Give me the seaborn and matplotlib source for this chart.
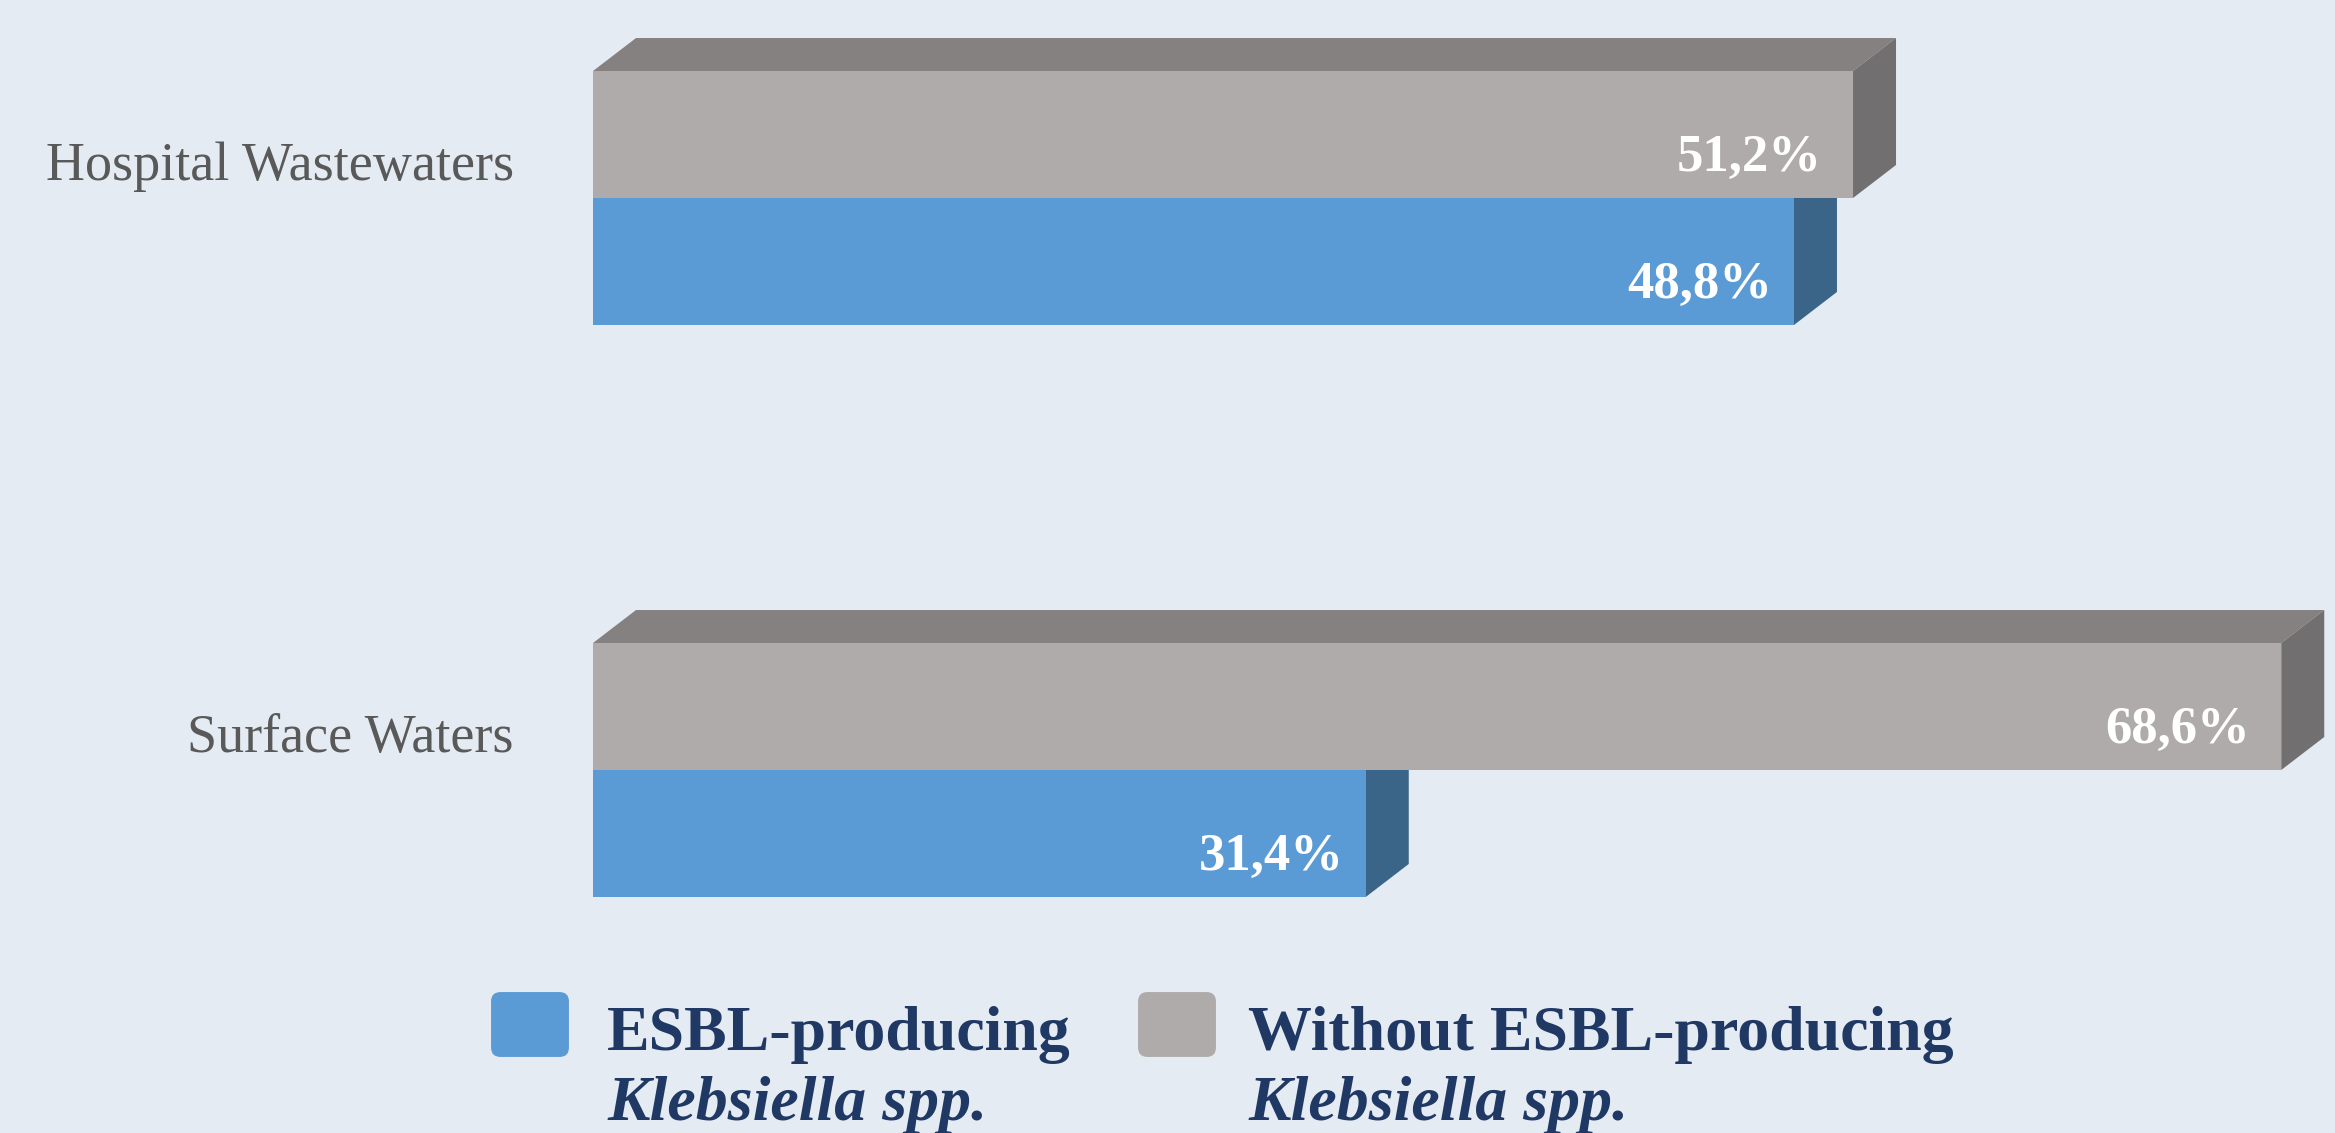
import numpy as np
import pandas as pd
import matplotlib
matplotlib.use("Agg")
import matplotlib.pyplot as plt
import seaborn as sns
from matplotlib.patches import Polygon, FancyBboxPatch

# ---------------- data ----------------
categories = ["Hospital Wastewaters", "Surface Waters"]
series_names = ["ESBL-producing", "Without ESBL-producing"]
esbl_pct = [48.8, 31.4]
without_pct = [51.2, 68.6]
esbl_labels = ["48,8%", "31,4%"]
without_labels = ["51,2%", "68,6%"]
legend_line2 = "Klebsiella spp."

# ---------------- style ----------------
BG = "#E4EBF3"
BLUE_FRONT, BLUE_TOP, BLUE_SIDE = "#5B9BD5", "#4A80B0", "#3A6589"
GRAY_FRONT, GRAY_TOP, GRAY_SIDE = "#AEABAA", "#858180", "#716F6F"
NAVY = "#203864"
LABEL_GRAY = "#595959"

sns.set_theme(style="white")
plt.rcParams["font.family"] = ["Liberation Serif", "DejaVu Serif"]

W, H, DPI = 2335, 1133, 100
fig = plt.figure(figsize=(W / DPI, H / DPI), dpi=DPI, facecolor=BG)

# axes placement (pixels)
ax_left, ax_top, ax_bottom = 593, 0, 940
px_per_pct = 24.61
xmax = 70
ax_w = xmax * px_per_pct
px_per_cat = 572
y_top = (ax_top - 198) / px_per_cat
y_bot = (ax_bottom - 198) / px_per_cat
ax = fig.add_axes([ax_left / W, 1 - ax_bottom / H, ax_w / W, (ax_bottom - ax_top) / H])
ax.set_facecolor(BG)

df = pd.DataFrame({
    "category": categories * 2,
    "series": [series_names[1]] * len(categories) + [series_names[0]] * len(categories),
    "value": without_pct + esbl_pct,
})

palette = {series_names[0]: BLUE_FRONT, series_names[1]: GRAY_FRONT}
sns.barplot(data=df, y="category", x="value", hue="series",
            order=categories, hue_order=[series_names[1], series_names[0]],
            palette=palette, width=0.444, gap=0, saturation=1, dodge=True,
            errorbar=None, legend=False, orient="h", ax=ax, linewidth=0)

ax.set_xlim(0, xmax)
ax.set_ylim(y_bot, y_top)
for s in ax.spines.values():
    s.set_visible(False)
ax.set_xticks([])
ax.set_xlabel("")
ax.set_ylabel("")
ax.grid(False)

# depth of the 3D effect in data units
dx = 43 / px_per_pct
dy = 33 / px_per_cat

bars = list(ax.patches)
n = len(categories)
without_bars = bars[:n]
esbl_bars = bars[n:2 * n]

def add_3d(bar, top_c, side_c, z):
    x0, y0 = bar.get_x(), bar.get_y()
    w, h = bar.get_width(), bar.get_height()
    x1 = x0 + w
    yt, yb = y0, y0 + h  # inverted axis: y0 is visual top
    top = Polygon([(x0, yt), (x1, yt), (x1 + dx, yt - dy), (x0 + dx, yt - dy)],
                  closed=True, facecolor=top_c, edgecolor="none", zorder=z, clip_on=False)
    side = Polygon([(x1, yt), (x1, yb), (x1 + dx, yb - dy), (x1 + dx, yt - dy)],
                   closed=True, facecolor=side_c, edgecolor="none", zorder=z, clip_on=False)
    ax.add_patch(top)
    ax.add_patch(side)

for b in esbl_bars:
    add_3d(b, BLUE_TOP, BLUE_SIDE, 1)
    b.set_zorder(2)
for b in without_bars:
    add_3d(b, GRAY_TOP, GRAY_SIDE, 2.5)
    b.set_zorder(3)

# value labels
for bars_set, labels, offx in ((esbl_bars, esbl_labels, -22), (without_bars, without_labels, -31)):
    for b, lab in zip(bars_set, labels):
        xe = b.get_x() + b.get_width()
        yc = b.get_y() + b.get_height() / 2
        ax.annotate(lab, xy=(xe, yc), xytext=(offx, -36), textcoords="offset pixels",
                    ha="right", va="baseline", color="white", fontsize=38,
                    fontweight="bold", zorder=5)

# category labels
cat_pos = np.arange(len(categories))
ax.set_yticks(cat_pos - 37 / px_per_cat)
ax.set_yticklabels(categories)
ax.tick_params(axis="y", length=0, pad=57, labelsize=39, labelcolor=LABEL_GRAY)

# legend (manual, two-line labels)
def legend_item(x_sq, color, x_txt, line1):
    fig.patches.append(FancyBboxPatch(((x_sq + 8) / W, 1 - (1057 - 8) / H),
                                      (78 - 16) / W, (65 - 16) / H,
                                      boxstyle="round,pad=0.0034,rounding_size=0.004",
                                      transform=fig.transFigure, facecolor=color,
                                      edgecolor="none", mutation_aspect=W / H))
    fig.text(x_txt / W, 1 - 1050 / H, line1, ha="left", va="baseline",
             fontsize=46, fontweight="bold", color=NAVY)
    fig.text(x_txt / W, 1 - 1120 / H, legend_line2, ha="left", va="baseline",
             fontsize=46, fontweight="bold", fontstyle="italic", color=NAVY)

legend_item(491, BLUE_FRONT, 607, series_names[0])
legend_item(1138, GRAY_FRONT, 1248, series_names[1])

fig.savefig("out.png", dpi=DPI, facecolor=BG)
